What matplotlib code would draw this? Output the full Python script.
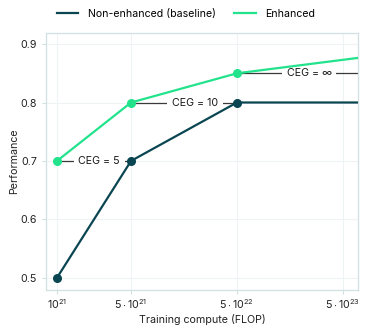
import matplotlib
matplotlib.use("Agg")
import matplotlib.pyplot as plt

plt.rcParams['font.family'] = ['Inter', 'DejaVu Sans']
plt.rcParams['mathtext.fontset'] = 'custom'
plt.rcParams['mathtext.rm'] = 'Inter'
plt.rcParams['mathtext.it'] = 'Inter'

compute_base = [1e21, 5e21, 5e22, 1e24]
perf_base = [0.5, 0.7, 0.8, 0.8]
compute_enh = [1e21, 5e21, 5e22, 1e24]
perf_enh = [0.7, 0.8, 0.85, 0.88]
marker_n = 3  # points with markers

ceg_labels = ["CEG = 5", "CEG = 10", "CEG = ∞"]
ceg_start = [1e21, 5e21, 5e22]
ceg_end = [5e21, 5e22, 1e24]
ceg_y = [0.7, 0.8, 0.85]
ceg_text_x = [2.5e21, 2.0e22, 2.4e23]

xticks = [1e21, 5e21, 5e22, 5e23]
xtick_labels = [r"$10^{21}$", r"$5\cdot10^{21}$", r"$5\cdot10^{22}$", r"$5\cdot10^{23}$"]
yticks = [0.5, 0.6, 0.7, 0.8, 0.9]

c_base = "#0a4652"
c_enh = "#22e38c"
spine_c = "#d3e0e3"
grid_c = "#eef4f5"

fig = plt.figure(figsize=(3.74, 3.36), dpi=100)
ax = fig.add_axes([46/374, 1-290/336, (358-46)/374, (290-33)/336])
ax.set_xscale('log')
ax.set_xlim(10**20.896, 10**23.842)
ax.set_ylim(0.479, 0.919)

# CEG lines
for s, e, y, lab, tx in zip(ceg_start, ceg_end, ceg_y, ceg_labels, ceg_text_x):
    ax.plot([s, e], [y, y], color="#3a3a3a", lw=0.9, zorder=2)
    ax.text(tx, y, lab, ha='center', va='center', fontsize=7.7, color="#1a1a1a",
            bbox=dict(facecolor='white', edgecolor='none', pad=3.5), zorder=3)

ax.plot(compute_base, perf_base, color=c_base, lw=1.6, zorder=4, label="Non-enhanced (baseline)")
ax.plot(compute_base[:marker_n], perf_base[:marker_n], 'o', color=c_base, ms=5.5, zorder=5)
ax.plot(compute_enh, perf_enh, color=c_enh, lw=1.6, zorder=4, label="Enhanced")
ax.plot(compute_enh[:marker_n], perf_enh[:marker_n], 'o', color=c_enh, ms=5.5, zorder=5)

ax.set_xticks(xticks)
ax.set_xticklabels(xtick_labels)
ax.xaxis.set_minor_locator(matplotlib.ticker.NullLocator())
ax.set_yticks(yticks)
ax.set_yticklabels([f"{v:.1f}" for v in yticks])
ax.tick_params(axis='both', labelsize=7.7, colors=spine_c, labelcolor="#222222", length=3, width=0.8)
ax.tick_params(axis='x', pad=2.5)
ax.grid(True, color=grid_c, lw=0.8, zorder=0)
for sp in ax.spines.values():
    sp.set_color(spine_c)
    sp.set_linewidth(0.9)

ax.set_xlabel("Training compute (FLOP)", fontsize=7.7, color="#222222", labelpad=2)
ax.set_ylabel("Performance", fontsize=7.7, color="#222222", labelpad=1)

fig.legend(loc='center', bbox_to_anchor=(186/374, 1-14/336), ncol=2, frameon=False,
           fontsize=7.6, handlelength=2.0, handletextpad=0.9, columnspacing=1.8)

fig.savefig("out.png", dpi=100)
